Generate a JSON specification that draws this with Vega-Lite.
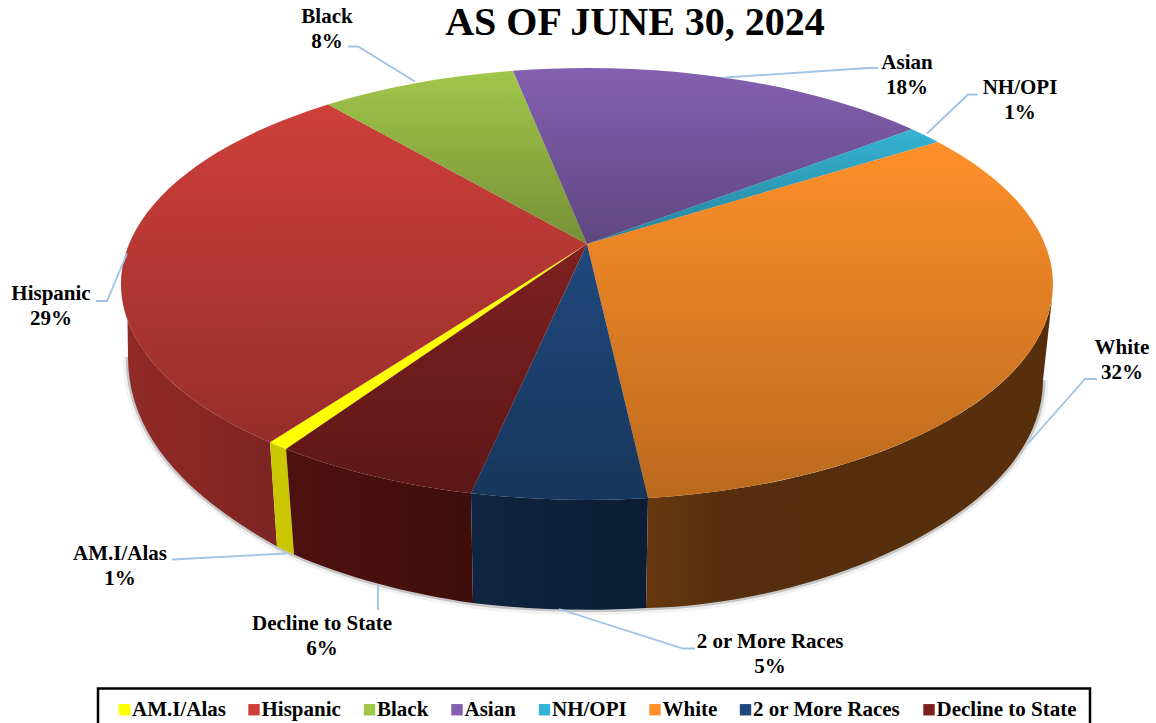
{"$schema":"https://vega.github.io/schema/vega-lite/v6.json","width":1156,"height":723,"padding":0,"autosize":{"type":"none"},"background":"white","config":{"view":{"stroke":null},"font":"Liberation Serif"},
"title":{"text":"AS OF JUNE 30, 2024","font":"Liberation Serif","fontSize":40,"fontWeight":"bold","color":"black","anchor":"middle","dx":57,"offset":-75,"baseline":"alphabetic","frame":"group"},
"data":{"values":[{"race":"AM.I/Alas","share":1,"order":1},{"race":"Hispanic","share":29,"order":2},{"race":"Black","share":8,"order":3},{"race":"Asian","share":18,"order":4},{"race":"NH/OPI","share":1,"order":5},{"race":"White","share":32,"order":6},{"race":"2 or More Races","share":5,"order":7},{"race":"Decline to State","share":6,"order":8}]},
"resolve":{"scale":{"shape":"independent"}},
"layer":[
{"transform":[{"filter":"datum.order==1"}],"mark":{"type":"point","filled":false,"size":4,"opacity":1,"stroke":"black","strokeOpacity":0.05,"strokeWidth":11,"shape":"M -450 -4.5 C -450 75 -390 135 -301 185 L -284 193 A 460 220 0 0 0 -105 241.5 A 460 220 0 0 0 68 246.5 C 245 243 465 150 465 18.5"},"encoding":{}},
{"transform":[{"filter":"datum.order==1"}],"mark":{"type":"point","filled":false,"size":4,"opacity":1,"stroke":"black","strokeOpacity":0.18,"strokeWidth":5,"shape":"M -450 -4.5 C -450 75 -390 135 -301 185 L -284 193 A 460 220 0 0 0 -105 241.5 A 460 220 0 0 0 68 246.5 C 245 243 465 150 465 18.5"},"encoding":{}},
{"transform":[{"filter":"datum.race=='Hispanic'"}],"mark":{"type":"point","filled":true,"size":4,"opacity":1,"shape":"M -308 80.8 A 466 216 0 0 1 -450.5 -41.5 L -450 -4.5 C -450 75 -390 135 -301 185 Z","fill":{"gradient":"linear","x1":0,"y1":0,"x2":1,"y2":0,"stops":[{"offset":0,"color":"#8F2A27"},{"offset":0.5,"color":"#882724"},{"offset":1,"color":"#7C2523"}]}},"encoding":{}},
{"transform":[{"filter":"datum.race=='AM.I/Alas'"}],"mark":{"type":"point","filled":true,"size":4,"opacity":1,"color":"#C9C800","shape":"M -308 80.8 L -292 87.4 L -284 193 L -301 185 Z"},"encoding":{}},
{"transform":[{"filter":"datum.race=='Decline to State'"}],"mark":{"type":"point","filled":true,"size":4,"opacity":1,"shape":"M -107 131.7 A 466 216 0 0 1 -292 87.4 L -284 193 A 460 220 0 0 0 -105 241.5 Z","fill":{"gradient":"linear","x1":0,"y1":0,"x2":1,"y2":0,"stops":[{"offset":0,"color":"#4E1110"},{"offset":1,"color":"#3F0E0C"}]}},"encoding":{}},
{"transform":[{"filter":"datum.race=='2 or More Races'"}],"mark":{"type":"point","filled":true,"size":4,"opacity":1,"shape":"M 70 136.6 A 466 216 0 0 1 -107 131.7 L -105 241.5 A 460 220 0 0 0 68 246.5 Z","fill":{"gradient":"linear","x1":0,"y1":0,"x2":1,"y2":0,"stops":[{"offset":0,"color":"#102540"},{"offset":1,"color":"#0C1E36"}]}},"encoding":{}},
{"transform":[{"filter":"datum.race=='White'"}],"mark":{"type":"point","filled":true,"size":4,"opacity":1,"shape":"M 474.3 -65.5 A 466 216 0 0 1 70 136.6 L 68 246.5 C 245 243 465 150 465 18.5 Z","fill":{"gradient":"linear","x1":0,"y1":0,"x2":1,"y2":0,"stops":[{"offset":0,"color":"#66380F"},{"offset":0.2,"color":"#552E0D"},{"offset":1,"color":"#572F0C"}]}},"encoding":{}},
{"mark":{"type":"point","filled":true,"size":4,"opacity":1},"encoding":{
"color":{"field":"race","type":"nominal","scale":{"domain":["AM.I/Alas","Hispanic","Black","Asian","NH/OPI","White","2 or More Races","Decline to State"],"range":["#FFFF00","#CE3F3A","#A1C64B","#8360B0","#35B3D3","#FF9029","#1F497D","#7F2020"]},"legend":{"title":null,"orient":"none","legendX":106,"legendY":691,"direction":"horizontal","columns":8,"symbolType":"square","symbolSize":130,"symbolStrokeWidth":0,"labelFont":"Liberation Serif","labelFontWeight":"bold","labelFontSize":21,"labelColor":"black","labelOffset":-3,"columnPadding":17.5,"padding":8,"labelLimit":300}},
"shape":{"field":"race","type":"nominal","legend":null,"scale":{"domain":["AM.I/Alas","Hispanic","Black","Asian","NH/OPI","White","2 or More Races","Decline to State"],"range":["M 9 -117.5 L -292 87.4 A 466 216 0 0 1 -308 80.8 Z","M 9 -117.5 L -308 80.8 A 466 216 0 0 1 -250 -257.1 Z","M 9 -117.5 L -250 -257.1 A 466 216 0 0 1 -65 -290.8 Z","M 9 -117.5 L -65 -290.8 A 466 216 0 0 1 334 -232.3 Z","M 9 -117.5 L 334 -232.3 A 466 216 0 0 1 360 -219.6 Z","M 9 -117.5 L 360 -219.6 A 466 216 0 0 1 70 136.6 Z","M 9 -117.5 L 70 136.6 A 466 216 0 0 1 -107 131.7 Z","M 9 -117.5 L -107 131.7 A 466 216 0 0 1 -292 87.4 Z"]}}}},
{"transform":[{"filter":"datum.order>1"}],"mark":{"type":"point","filled":true,"size":4,"opacity":1,"fill":{"gradient":"linear","x1":0,"y1":0,"x2":0,"y2":1,"stops":[{"offset":0,"color":"rgba(0,0,0,0)"},{"offset":1,"color":"rgba(0,0,0,0.27)"}]}},"encoding":{
"shape":{"field":"race","type":"nominal","legend":null,"scale":{"domain":["Hispanic","Black","Asian","NH/OPI","White","2 or More Races","Decline to State"],"range":["M 9 -117.5 L -308 80.8 A 466 216 0 0 1 -250 -257.1 Z","M 9 -117.5 L -250 -257.1 A 466 216 0 0 1 -65 -290.8 Z","M 9 -117.5 L -65 -290.8 A 466 216 0 0 1 334 -232.3 Z","M 9 -117.5 L 334 -232.3 A 466 216 0 0 1 360 -219.6 Z","M 9 -117.5 L 360 -219.6 A 466 216 0 0 1 70 136.6 Z","M 9 -117.5 L 70 136.6 A 466 216 0 0 1 -107 131.7 Z","M 9 -117.5 L -107 131.7 A 466 216 0 0 1 -292 87.4 Z"]}}}},
{"transform":[{"filter":"datum.order==1"}],"mark":{"type":"point","filled":false,"size":4,"opacity":1,"stroke":"black","strokeWidth":2.5,"shape":"M -480 368 L -480 327 L 512 327 L 512 368"},"encoding":{}},
{"mark":{"type":"point","filled":false,"size":4,"opacity":1,"color":"#9DC3E6","strokeWidth":1.8},"encoding":{"shape":{"field":"race","type":"nominal","legend":null,"scale":{"domain":["AM.I/Alas","Hispanic","Black","Asian","NH/OPI","White","2 or More Races","Decline to State"],"range":["M -292 192 L -406 198","M -451 -108 L -471 -60.5 L -482 -60.5","M -163 -280 L -220 -315 L -230 -315","M 147 -284 L 290 -293.5 L 300 -293.5","M 349 -228 L 390 -267 L 400 -267","M 450 82 L 507 17.5 L 519 17.5","M -19 247.5 L 105 287 L 117 287","M -200 224 L -200 248.5"]}}}},
{"transform":[{"calculate":"[datum.race, datum.share + '%']","as":"label"}],"mark":{"type":"text","font":"Liberation Serif","fontWeight":"bold","fontSize":21,"color":"black","align":"center","baseline":"middle","lineHeight":24.5},"encoding":{"text":{"field":"label"},
"x":{"field":"order","type":"quantitative","axis":null,"scale":{"domain":[1,2,3,4,5,6,7,8],"range":[120,51,327,907,1020,1122,770,322],"zero":false,"nice":false}},
"y":{"field":"order","type":"quantitative","axis":null,"scale":{"domain":[1,2,3,4,5,6,7,8],"range":[554,294,17,63,88,348,642,624],"zero":false,"nice":false}}}}
]}
